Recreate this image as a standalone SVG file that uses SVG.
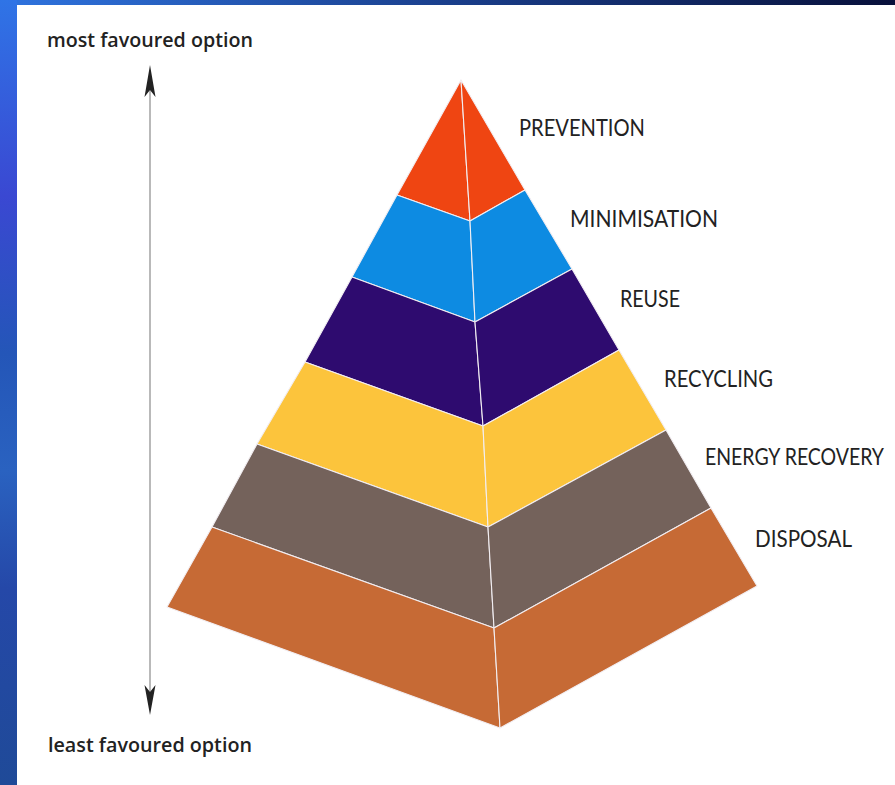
<svg xmlns="http://www.w3.org/2000/svg" width="895" height="785" viewBox="0 0 895 785">
  <defs>
    <linearGradient id="topbar" x1="0" y1="0" x2="1" y2="0">
      <stop offset="0" stop-color="#2f74e0"/>
      <stop offset="0.5" stop-color="#1a3f8c"/>
      <stop offset="1" stop-color="#08103a"/>
    </linearGradient>
    <linearGradient id="sidebar" x1="0" y1="0" x2="0" y2="1">
      <stop offset="0" stop-color="#2f74e6"/>
      <stop offset="0.25" stop-color="#3a48d2"/>
      <stop offset="0.45" stop-color="#2456b8"/>
      <stop offset="0.6" stop-color="#2a62c0"/>
      <stop offset="0.75" stop-color="#2548a8"/>
      <stop offset="1" stop-color="#1f4a98"/>
    </linearGradient>
    <style>
      .face { stroke: #f2eef2; stroke-width: 1.1; stroke-linejoin: round; }
      .lbl { font-family: "Lato", "Open Sans", "Liberation Sans", sans-serif; font-size: 23px; fill: #222; }
      .end { font-family: "Open Sans", "Liberation Sans", sans-serif; font-size: 20px; font-weight: 600; fill: #222; }
    </style>
  </defs>

  <rect x="0" y="0" width="895" height="785" fill="#ffffff"/>
  <rect x="0" y="0" width="895" height="5" fill="url(#topbar)"/>
  <rect x="0" y="0" width="17" height="785" fill="url(#sidebar)"/>

  <g id="prevention">
    <polygon class="face" fill="#EF4512" points="461,80 397,195 470,221"/>
    <polygon class="face" fill="#EF4512" points="461,80 470,221 525,190"/>
  </g>
  <g id="minimisation">
    <polygon class="face" fill="#0D8BE2" points="397,195 470,221 475,322 352,277"/>
    <polygon class="face" fill="#0D8BE2" points="470,221 525,190 572,269 475,322"/>
  </g>
  <g id="reuse">
    <polygon class="face" fill="#2E0B6F" points="352,277 475,322 483,426 305,362"/>
    <polygon class="face" fill="#2E0B6F" points="475,322 572,269 619,350 483,426"/>
  </g>
  <g id="recycling">
    <polygon class="face" fill="#FCC43C" points="305,362 483,426 488,527 257,444"/>
    <polygon class="face" fill="#FCC43C" points="483,426 619,350 666,430 488,527"/>
  </g>
  <g id="energy-recovery">
    <polygon class="face" fill="#74625B" points="257,444 488,527 494,628 212,527"/>
    <polygon class="face" fill="#74625B" points="488,527 666,430 711,508 494,628"/>
  </g>
  <g id="disposal">
    <polygon class="face" fill="#C66A35" points="212,527 494,628 500,728 167,607"/>
    <polygon class="face" fill="#C66A35" points="494,628 711,508 757,586 500,728"/>
  </g>

  <g id="labels">
    <text class="lbl" x="519" y="136" textLength="126" lengthAdjust="spacingAndGlyphs">PREVENTION</text>
    <text class="lbl" x="570" y="227" textLength="148" lengthAdjust="spacingAndGlyphs">MINIMISATION</text>
    <text class="lbl" x="620" y="307" textLength="60" lengthAdjust="spacingAndGlyphs">REUSE</text>
    <text class="lbl" x="664" y="387" textLength="109" lengthAdjust="spacingAndGlyphs">RECYCLING</text>
    <text class="lbl" x="705" y="465" font-size="21" textLength="179" lengthAdjust="spacingAndGlyphs">ENERGY RECOVERY</text>
    <text class="lbl" x="755" y="547" textLength="97" lengthAdjust="spacingAndGlyphs">DISPOSAL</text>
  </g>

  <g id="connectors">
    <line x1="150" y1="88" x2="150" y2="692" stroke="#8a8a8a" stroke-width="1.2"/>
    <path d="M150,65 L144.5,97 L150,90 L155.5,97 Z" fill="#222"/>
    <path d="M150,715 L144.5,685 L150,692 L155.5,685 Z" fill="#222"/>
  </g>

  <g id="axis-labels">
    <text class="end" x="47" y="47" textLength="206" lengthAdjust="spacingAndGlyphs">most favoured option</text>
    <text class="end" x="48" y="752" textLength="204" lengthAdjust="spacingAndGlyphs">least favoured option</text>
  </g>
</svg>
